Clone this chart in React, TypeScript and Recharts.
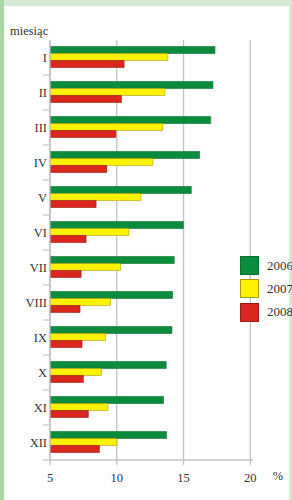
import React from 'react';
import { BarChart, Bar, XAxis, YAxis, CartesianGrid, Legend } from 'recharts';

const months = ['I', 'II', 'III', 'IV', 'V', 'VI', 'VII', 'VIII', 'IX', 'X', 'XI', 'XII'];
const s2006 = [17.35, 17.2, 17.03, 16.2, 15.58, 14.98, 14.3, 14.18, 14.13, 13.7, 13.5, 13.73];
const s2007 = [13.83, 13.6, 13.45, 12.7, 11.8, 10.9, 10.28, 9.53, 9.15, 8.85, 9.33, 10.0];
const s2008 = [10.55, 10.35, 9.93, 9.25, 8.45, 7.7, 7.33, 7.25, 7.4, 7.5, 7.87, 8.7];
const seriesNames = ['2006', '2007', '2008'];
const xTicks = [5, 10, 15, 20];
const xDomain = [5, 20.2];

const fills = ['#0b8c3c', '#fff200', '#da261c'];
const strokes = ['#0a6e30', '#a89a10', '#9c1a12'];
const FONT = 'Liberation Serif, Times New Roman, DejaVu Serif, serif';
const GRID = '#c2c2c2';
const TEXT = '#333333';

const data = months.map((m, i) => ({
  month: m,
  [seriesNames[0]]: s2006[i],
  [seriesNames[1]]: s2007[i],
  [seriesNames[2]]: s2008[i],
}));

const W = 292;
const H = 500;
const margin = { top: 40, right: 39, bottom: 10, left: 10 };
const xAxisH = 30;
const plotH = H - margin.top - margin.bottom - xAxisH;
const halfBand = plotH / months.length / 2;

const YTick = (props: any) => {
  const { x, y, payload } = props;
  return (
    <g>
      <text x={x} y={y} dy="0.36em" textAnchor="end" fontFamily={FONT} fontSize={12.5} fill={TEXT}>
        {payload.value}
      </text>
      <line x1={x - 4} x2={x + 3} y1={y + halfBand} y2={y + halfBand} stroke={GRID} strokeWidth={1.2} />
    </g>
  );
};

const XTick = (props: any) => {
  const { x, y, payload } = props;
  return (
    <text x={x} y={y} dy="0.71em" textAnchor="middle" fontFamily={FONT} fontSize={12.5} fill={TEXT}>
      {payload.value}
    </text>
  );
};

const LegendContent = (props: any) => {
  const { payload } = props;
  return (
    <div>
      {(payload || []).map((p: any, i: number) => (
        <div key={p.value} style={{ display: 'flex', alignItems: 'center', height: 23.3, whiteSpace: 'nowrap' }}>
          <span
            style={{
              display: 'inline-block',
              width: 17,
              height: 17,
              background: fills[i],
              border: `1px solid ${strokes[i]}`,
            }}
          />
          <span style={{ marginLeft: 8, fontFamily: FONT, fontSize: 13, color: TEXT }}>{p.value}</span>
        </div>
      ))}
    </div>
  );
};

const verticalGen = (args: any) => {
  const off = args && args.offset ? args.offset : { left: margin.left + 40, width: W - margin.left - 40 - margin.right };
  return xTicks.map((t) => off.left + ((t - xDomain[0]) / (xDomain[1] - xDomain[0])) * off.width);
};

export default function App() {
  return (
    <div style={{ position: 'absolute', left: 0, top: 0, width: W, height: H, overflow: 'hidden', background: '#d3ebd3' }}>
      <div style={{ position: 'absolute', left: 0, top: 0, width: 4, height: H, background: '#a8d8a8' }} />
      <div style={{ position: 'absolute', left: 4, top: 6, width: 285, height: H - 6, background: '#ffffff' }} />
      <div style={{ position: 'absolute', left: 0, top: 0 }}>
        <BarChart
          width={W}
          height={H}
          data={data}
          layout="vertical"
          margin={margin}
          barCategoryGap="18.5%"
          barGap={0}
        >
          <CartesianGrid
            horizontal={false}
            vertical={true}
            stroke={GRID}
            strokeWidth={1.3}
            verticalCoordinatesGenerator={verticalGen}
          />
          <XAxis
            type="number"
            domain={xDomain}
            ticks={xTicks}
            allowDataOverflow
            height={xAxisH}
            axisLine={{ stroke: GRID, strokeWidth: 1.3 }}
            tickLine={{ stroke: GRID, strokeWidth: 1.3 }}
            tickSize={5}
            tickMargin={8}
            tick={<XTick />}
            label={{
              content: (p: any) => {
                const vb = p.viewBox || {};
                return (
                  <text x={vb.x + vb.width + 25} y={vb.y + 20} textAnchor="middle" fontFamily={FONT} fontSize={12.5} fill={TEXT}>
                    %
                  </text>
                );
              },
            }}
          />
          <YAxis
            type="category"
            dataKey="month"
            width={40}
            interval={0}
            axisLine={{ stroke: GRID, strokeWidth: 1.3 }}
            tickLine={false}
            tickSize={0}
            tickMargin={3}
            tick={<YTick />}
            label={{
              content: () => (
                <text x={10} y={35} fontFamily={FONT} fontSize={12.5} fill={TEXT}>
                  miesiąc
                </text>
              ),
            }}
          />
          <Legend
            layout="vertical"
            align="center"
            verticalAlign="middle"
            content={<LegendContent />}
            wrapperStyle={{ position: 'absolute', left: 240, top: 254, width: 60 }}
          />
          {seriesNames.map((name, i) => (
            <Bar
              key={name}
              dataKey={name}
              name={name}
              fill={fills[i]}
              stroke={strokes[i]}
              strokeWidth={0.6}
              isAnimationActive={false}
            />
          ))}
        </BarChart>
      </div>
    </div>
  );
}
